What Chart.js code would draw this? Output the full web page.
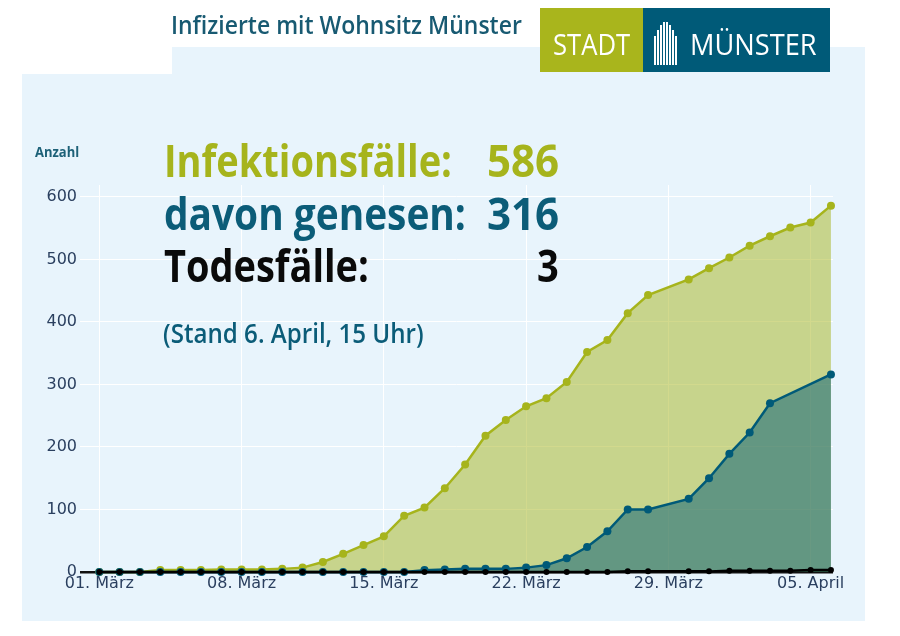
<!DOCTYPE html>
<html><head><meta charset="utf-8">
<script src="https://cdn.jsdelivr.net/npm/chart.js@4.4.0/dist/chart.umd.min.js"></script>
<style>
html,body{margin:0;padding:0;background:#fff;width:900px;height:636px;overflow:hidden;}
#stage{position:relative;width:900px;height:636px;}
.panel{position:absolute;background:#e8f4fc;}
.t{position:absolute;left:0;top:0;white-space:nowrap;font-family:"Open Sans",sans-serif;font-weight:700;line-height:1;transform-origin:0 0;}
canvas{position:absolute;left:0;top:0;}
.bar{position:absolute;background:#fff;width:1.6px;}
</style></head>
<body><div id="stage">
<div class="panel" style="left:172px;top:47px;width:693px;height:28px"></div>
<div class="panel" style="left:22px;top:74px;width:843px;height:547px"></div>
<div style="position:absolute;left:540px;top:8px;width:103px;height:64px;background:#a9b51c"></div>
<div style="position:absolute;left:643px;top:8px;width:187px;height:64px;background:#005a78"></div>
<div id="icon"></div>
<canvas id="c" width="900" height="636"></canvas>
<div class="t" id="title" style="font-size:25px;font-weight:600;color:#185a72">Infizierte mit Wohnsitz Münster</div>
<div class="t" id="stadt" style="font-size:30px;font-weight:400;color:#fff">STADT</div>
<div class="t" id="muenster" style="font-size:30px;font-weight:400;color:#fff">MÜNSTER</div>
<div class="t" id="anzahl" style="font-size:14px;color:#1d6178">Anzahl</div>
<div class="t" id="l1" style="font-size:45px;color:#a6b41c">Infektionsfälle:</div>
<div class="t" id="n1" style="font-size:45px;color:#a6b41c">586</div>
<div class="t" id="l2" style="font-size:45px;color:#0b5c78">davon genesen:</div>
<div class="t" id="n2" style="font-size:45px;color:#0b5c78">316</div>
<div class="t" id="l3" style="font-size:45px;color:#0a0a0a">Todesfälle:</div>
<div class="t" id="n3" style="font-size:45px;color:#0a0a0a">3</div>
<div class="t" id="l4" style="font-size:27px;font-weight:600;color:#0b5c78">(Stand 6. April, 15 Uhr)</div>
</div>
<script>
// ---- data (day index: 0 = 01. März; 29. März (28) not reported) ----
const days = [0,1,2,3,4,5,6,7,8,9,10,11,12,13,14,15,16,17,18,19,20,21,22,23,24,25,26,27,29,30,31,32,33,34,35,36];
const infected = [0,0,0,3,3,3,4,4,4,5,7,16,29,43,57,90,103,134,172,218,243,265,278,304,352,371,414,443,468,486,503,522,537,551,559,586];
const recovered = [0,0,0,0,0,0,0,0,0,0,0,0,0,0,0,0,3,4,5,5,5,7,11,22,40,65,100,100,117,150,189,223,270,null,null,316];
const deaths = [0,0,0,0,0,0,0,0,0,0,0,0,0,0,0,0,0,0,0,0,0,0,0,0,0,0,1,1,1,1,2,2,2,2,3,3];
const tickDays = [0,7,14,21,28,35];
const tickLabels = ['01. März','08. März','15. März','22. März','29. März','05. April'];
const yTicks = [0,100,200,300,400,500,600];

function pts(vals){ return days.map((d,i)=>({x:d,y:vals[i]})).filter(p=>p.y!==null); }

const green='rgb(166,180,28)', blue='rgb(0,90,120)';
function ds(vals,col,fillCol,r){
  return {data:pts(vals),borderColor:col,backgroundColor:fillCol||col,fill:fillCol?'origin':false,
    borderWidth:2.5,pointRadius:r,pointBackgroundColor:col,pointBorderWidth:0,tension:0,clip:false};
}
new Chart(document.getElementById('c'),{
  type:'line',
  data:{datasets:[
    ds(deaths,'#000',null,3),
    ds(recovered,blue,'rgba(0,90,120,0.5)',4),
    ds(infected,green,'rgba(166,180,28,0.5)',4)
  ]},
  options:{
    responsive:false,animation:false,devicePixelRatio:1,
    layout:{padding:{left:0,right:67,top:185,bottom:0}},
    plugins:{legend:{display:false},tooltip:{enabled:false}},
    scales:{
      x:{type:'linear',min:-0.95,max:36.1,
        afterBuildTicks:s=>{s.ticks=tickDays.map(v=>({value:v}));},
        afterFit:s=>{s.height=63;},
        ticks:{callback:v=>tickLabels[tickDays.indexOf(v)],font:{family:'DejaVu Sans',size:16},color:'#2a3f5f',padding:1,maxRotation:0,autoSkip:false},
        grid:{color:'#ffffff',lineWidth:1,drawTicks:false},border:{display:false}},
      y:{min:-1.6,max:619,
        afterBuildTicks:s=>{s.ticks=yTicks.map(v=>({value:v}));},
        afterFit:s=>{s.width=80;},
        ticks:{font:{family:'DejaVu Sans',size:16},color:'#2a3f5f',padding:3},
        grid:{color:c=>c.tick&&c.tick.value===0?'#111':'#ffffff',lineWidth:c=>c.tick&&c.tick.value===0?2.5:1,drawTicks:false},border:{display:false}}
    }
  }
});

// logo icon bars
const icon=document.getElementById('icon');
[[654,36],[657,30],[660,25],[663,22],[666,22],[669,25],[672,30],[675,36]].forEach(b=>{
  const d=document.createElement('div');d.className='bar';
  d.style.left=b[0]+'px';d.style.top=b[1]+'px';d.style.height=(65-b[1])+'px';icon.appendChild(d);
});

function fit(id,left,right,baseline){
  const el=document.getElementById(id);
  let mark=el.querySelector('i');
  if(!mark){mark=document.createElement('i');mark.style.cssText='display:inline-block;width:0;height:0;vertical-align:baseline';el.appendChild(mark);}
  el.style.transform='none';
  const w=el.offsetWidth, b=mark.offsetTop;
  el.style.left=left+'px';el.style.top=(baseline-b)+'px';
  el.style.transform='scaleX('+((right-left)/w)+')';
}
function layoutText(){
  fit('title',171,522,33.5);
  fit('stadt',553,630,55);
  fit('muenster',690,817,55);
  fit('anzahl',35,79.5,156.5);
  fit('l1',164,452,176.7);
  fit('n1',487,559,176.7);
  fit('l2',164,466,230);
  fit('n2',487,559,230);
  fit('l3',164,369,281.7);
  fit('n3',537,559,281.7);
  fit('l4',163,424,343);
}
layoutText();
if(document.fonts&&document.fonts.ready){document.fonts.ready.then(layoutText);}
</script>
</body></html>
